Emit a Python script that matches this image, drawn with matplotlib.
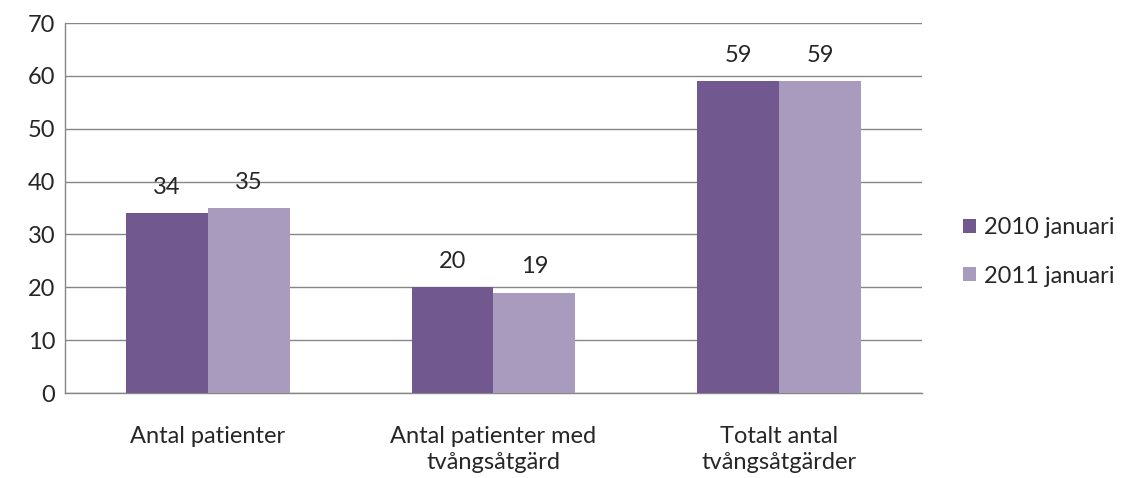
import numpy as np
import matplotlib.pyplot as plt

categories = ["Antal patienter", "Antal patienter med\ntvångsåtgärd", "Totalt antal\ntvångsåtgärder"]
series_names = ["2010 januari", "2011 januari"]
values_2010 = [34, 20, 59]
values_2011 = [35, 19, 59]
yticks = [0, 10, 20, 30, 40, 50, 60, 70]

colors = ["#71588F", "#A99BBD"]
grid_color = "#868686"
text_color = "#262626"
fs = 17

plt.rcParams["font.family"] = ["Lato", "DejaVu Sans"]

fig = plt.figure(figsize=(11.21, 4.78), dpi=100)
ax = fig.add_axes([65 / 1121, 1 - 393 / 478, 857 / 1121, 370 / 478])

x = np.arange(len(categories))
width = 0.287
for i, (vals, name) in enumerate(zip([values_2010, values_2011], series_names)):
    offset = (i - 0.5) * width
    bars = ax.bar(x + offset, vals, width, color=colors[i], label=name, zorder=3)
    for rect, v in zip(bars, vals):
        ax.text(rect.get_x() + rect.get_width() / 2, v + 4.9, str(v),
                ha="center", va="center", fontsize=fs, color=text_color)

ax.set_xlim(-0.5, 2.5)
ax.set_ylim(0, 70)
ax.set_yticks(yticks)
ax.yaxis.grid(True, color=grid_color, linewidth=1.0, zorder=0)
ax.set_xticks(x)
ax.set_xticklabels(categories, fontsize=fs, color=text_color, linespacing=1.3)
ax.tick_params(axis="x", length=0, pad=24)
ax.tick_params(axis="y", length=0, pad=7, labelsize=fs, labelcolor=text_color)

for side in ["top", "right"]:
    ax.spines[side].set_visible(False)
for side in ["left", "bottom"]:
    ax.spines[side].set_color(grid_color)
    ax.spines[side].set_linewidth(1.0)

ax.legend(loc="center left", bbox_to_anchor=(963 / 1121, 1 - 252 / 478),
          bbox_transform=fig.transFigure, frameon=False, fontsize=fs,
          handlelength=0.55, handleheight=0.55, handletextpad=0.35,
          labelspacing=1.15, labelcolor=text_color, borderpad=0, borderaxespad=0)

fig.savefig("out.png", dpi=100, facecolor="white")
